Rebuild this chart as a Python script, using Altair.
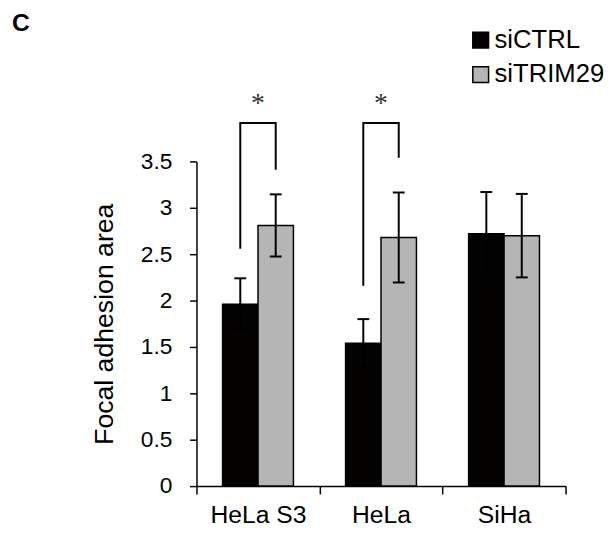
import altair as alt
import pandas as pd

FONT = "Liberation Sans"

cells = ["HeLa S3", "HeLa", "SiHa"]
groups = ["siCTRL", "siTRIM29"]
ctrl_mean = [1.96, 1.54, 2.72]
ctrl_err = [0.28, 0.26, 0.45]
trim_mean = [2.81, 2.68, 2.70]
trim_err = [0.335, 0.485, 0.45]
y_ticks = [0, 0.5, 1, 1.5, 2, 2.5, 3, 3.5]

# significance brackets
sig_cells = ["HeLa S3", "HeLa"]
sig_top = [3.915, 3.915]
sig_left_end = [2.56, 2.16]
sig_right_end = [3.41, 3.54]
sig_star_y = [4.15, 4.15]
sig_label = ["*", "*"]

rows = []
for i, c in enumerate(cells):
    rows.append(dict(cell=c, group=groups[0], mean=ctrl_mean[i],
                     lo=ctrl_mean[i] - ctrl_err[i], hi=ctrl_mean[i] + ctrl_err[i]))
    rows.append(dict(cell=c, group=groups[1], mean=trim_mean[i],
                     lo=trim_mean[i] - trim_err[i], hi=trim_mean[i] + trim_err[i]))
bars_df = pd.DataFrame(rows)

br = []
for i, c in enumerate(sig_cells):
    br += [
        dict(cell=c, group=groups[0], y=sig_left_end[i], k=0, id=c),
        dict(cell=c, group=groups[0], y=sig_top[i], k=1, id=c),
        dict(cell=c, group=groups[1], y=sig_top[i], k=2, id=c),
        dict(cell=c, group=groups[1], y=sig_right_end[i], k=3, id=c),
    ]
br_df = pd.DataFrame(br)
star_df = pd.DataFrame({"cell": sig_cells, "y": sig_star_y, "label": sig_label})

x_enc = alt.X(
    "cell:N", sort=cells,
    scale=alt.Scale(domain=cells, paddingInner=0, paddingOuter=0),
    axis=alt.Axis(title=None, tickBand="extent", labelAngle=0, labelFontSize=25,
                  labelFont=FONT, labelColor="black", tickColor="black",
                  domainColor="black", tickSize=8, tickWidth=1.5, domainWidth=1.5,
                  labelPadding=9, grid=False),
)
xo_enc = alt.XOffset("group:N", sort=groups,
                     scale=alt.Scale(domain=groups, paddingInner=0, paddingOuter=0.736))


def y_enc(field):
    return alt.Y(
        f"{field}:Q",
        scale=alt.Scale(domain=[0, 3.5], nice=False, zero=True),
        axis=alt.Axis(values=y_ticks, format="~g", title="Focal adhesion area",
                      titleFontSize=27, titleFont=FONT, titleFontWeight="normal",
                      titleColor="black", labelFontSize=23, labelFont=FONT,
                      labelColor="black", tickSize=7, tickWidth=1.5, tickColor="black",
                      domainColor="black", domainWidth=1.5, labelPadding=18,
                      titlePadding=22, grid=False),
    )


color_enc = alt.Color(
    "group:N",
    scale=alt.Scale(domain=groups, range=["#050202", "#b5b5b6"]),
    legend=alt.Legend(orient="none", legendX=275, legendY=-136, title=None,
                      symbolType="square", symbolSize=256, symbolStrokeColor="black",
                      symbolStrokeWidth=1.5, symbolOpacity=1, labelFontSize=26,
                      labelFont=FONT, labelColor="black", labelOffset=1,
                      rowPadding=9, padding=0),
)

base = alt.Chart(bars_df)
bars = base.mark_bar(stroke="black", strokeWidth=1.5).encode(
    x=x_enc, xOffset=xo_enc, y=y_enc("mean"), color=color_enc)
err = base.mark_rule(color="black", strokeWidth=2).encode(
    x=x_enc, xOffset=xo_enc, y=y_enc("lo"), y2="hi:Q")
cap_hi = base.mark_point(shape="stroke", size=144, color="black", strokeWidth=2,
                         filled=False, opacity=1).encode(x=x_enc, xOffset=xo_enc, y=y_enc("hi"))
cap_lo = base.mark_point(shape="stroke", size=144, color="black", strokeWidth=2,
                         filled=False, opacity=1).encode(x=x_enc, xOffset=xo_enc, y=y_enc("lo"))
brackets = alt.Chart(br_df).mark_line(color="black", strokeWidth=2).encode(
    x=x_enc, xOffset=xo_enc, y=y_enc("y"), order="k:Q", detail="id:N")
stars = alt.Chart(star_df).mark_text(font="Liberation Serif", fontSize=28,
                                     baseline="middle", dy=3, color="#333333").encode(
    x=x_enc, y=y_enc("y"), text="label:N")

chart = alt.layer(bars, err, cap_hi, cap_lo, brackets, stars).properties(
    width=374, height=329,
    title=alt.TitleParams("C", anchor="start", frame="group", font=FONT, fontSize=25,
                          fontWeight="bold", color="black", dx=-187, offset=-29,
                          baseline="alphabetic"),
    autosize=alt.AutoSizeParams(type="none"),
    padding={"left": 191, "top": 152, "right": 42, "bottom": 40},
).configure_view(strokeWidth=0)

chart.save("out.html", embed_options={"renderer": "svg", "actions": False})
